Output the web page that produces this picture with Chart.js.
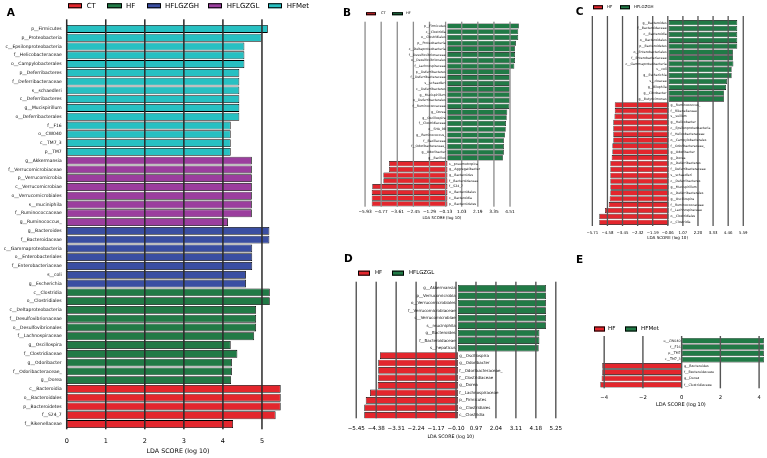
<!DOCTYPE html>
<html><head><meta charset="utf-8">
<script src="https://cdn.jsdelivr.net/npm/chart.js@4.4.0/dist/chart.umd.min.js"></script>
<style>
html,body{margin:0;padding:0;background:#fff;}
#wrap{position:relative;width:767px;height:458px;overflow:hidden;font-family:"DejaVu Sans",sans-serif;background:#fff;}
canvas{position:absolute;}
.t{position:absolute;white-space:nowrap;line-height:1;transform:translateY(-50%);color:#000;}
.box{position:absolute;border:1px solid #000;box-sizing:border-box;transform:translateY(-50%);}
</style></head><body><div id="wrap"></div>
<script>
// ---------------- DATA ----------------
const A_labels = ['p__Firmicutes','p__Proteobacteria','c__Epsilonproteobacteria','f__Helicobacteraceae','o__Campylobacterales','p__Deferribacteres','f__Deferribacteraceae','s__schaedleri','c__Deferribacteres','g__Mucispirillum','o__Deferribacterales','f__F16','o__CW040','c__TM7_3','p__TM7',
 'g__Akkermansia','f__Verrucomicrobiaceae','p__Verrucomicrobia','c__Verrucomicrobiae','o__Verrucomicrobiales','s__muciniphila','f__Ruminococcaceae','g__Ruminococcus_',
 'g__Bacteroides','f__Bacteroidaceae','c__Gammaproteobacteria','o__Enterobacteriales','f__Enterobacteriaceae','s__coli','g__Escherichia',
 'c__Clostridia','o__Clostridiales','c__Deltaproteobacteria','f__Desulfovibrionaceae','o__Desulfovibrionales','f__Lachnospiraceae','g__Oscillospira','f__Clostridiaceae','g__Odoribacter','f__Odoribacteraceae_','g__Dorea',
 'c__Bacteroidia','o__Bacteroidales','p__Bacteroidetes','f__S24_7','f__Rikenellaceae'];
const A_scores = [5.15,4.99,4.55,4.55,4.55,4.42,4.42,4.42,4.42,4.42,4.42,4.2,4.2,4.2,4.2,
 4.74,4.74,4.74,4.74,4.74,4.74,4.74,4.13,
 5.19,5.19,4.75,4.75,4.75,4.59,4.59,
 5.2,5.2,4.85,4.85,4.85,4.8,4.2,4.37,4.23,4.23,4.21,
 5.48,5.48,5.48,5.35,4.26];
const A_class = ['HFMet','HFMet','HFMet','HFMet','HFMet','HFMet','HFMet','HFMet','HFMet','HFMet','HFMet','HFMet','HFMet','HFMet','HFMet',
 'HFLGZGL','HFLGZGL','HFLGZGL','HFLGZGL','HFLGZGL','HFLGZGL','HFLGZGL','HFLGZGL',
 'HFLGZGH','HFLGZGH','HFLGZGH','HFLGZGH','HFLGZGH','HFLGZGH','HFLGZGH',
 'HF','HF','HF','HF','HF','HF','HF','HF','HF','HF','HF',
 'CT','CT','CT','CT','CT'];
const A_legend = ['CT','HF','HFLGZGH','HFLGZGL','HFMet'];
const A_ticks = ['0','1','2','3','4','5'];

const B_labels = ['p__Firmicutes','c__Clostridia','o__Clostridiales','p__Proteobacteria','c__Deltaproteobacteria','f__Desulfovibrionaceae','o__Desulfovibrionales','f__Lachnospiraceae','p__Deferribacteres','f__Deferribacteraceae','s__schaedleri','c__Deferribacteres','g__Mucispirillum','o__Deferribacterales','f__Ruminococcaceae','g__Dorea','g__Oscillospira','f__Clostridiaceae','o__SHA_98','g__Ruminococcus_','f__Bacillaceae','f__Odoribacteraceae_','g__Odoribacter','g__Bacillus',
 's__pneumotropica','g__Aggregatibacter','g__Bacteroides','f__Bacteroidaceae','f__S24_7','o__Bacteroidales','c__Bacteroidia','p__Bacteroidetes'];
const B_scores = [5.15,5.1,5.1,4.94,4.87,4.87,4.87,4.82,4.48,4.48,4.48,4.48,4.48,4.48,4.46,4.31,4.27,4.22,4.2,4.15,4.07,4.07,4.07,4.0,
 -4.2,-4.2,-4.61,-4.61,-5.41,-5.45,-5.45,-5.45];
const B_legend = ['CT','HF'];
const B_ticks = ['\u22125.93','\u22124.77','\u22123.61','\u22122.45','\u22121.29','\u22120.13','1.03','2.19','3.35','4.51'];

const C_labels = ['g__Bacteroides','f__Bacteroidaceae','c__Bacteroidia','o__Bacteroidales','p__Bacteroidetes','o__Enterobacteriales','f__Enterobacteriaceae','c__Gammaproteobacteria','s__coli','g__Escherichia','s__cloacae','g__Bilophila','g__Citrobacter','g__Butyricimonas',
 'g__Ruminococcus_','f__Rikenellaceae','s__suillum','g__Helicobacter','c__Epsilonproteobacteria','f__Helicobacteraceae','o__Campylobacterales','f__Odoribacteraceae_','g__Odoribacter','g__Dorea','p__Deferribacteres','f__Deferribacteraceae','s__schaedleri','c__Deferribacteres','g__Mucispirillum','o__Deferribacterales','g__Oscillospira','f__Ruminococcaceae','f__Lachnospiraceae','o__Clostridiales','c__Clostridia'];
const C_scores = [5.14,5.14,5.14,5.14,5.14,4.82,4.82,4.85,4.72,4.72,4.37,4.3,4.15,4.15,
 -4.03,-4.03,-4.05,-4.14,-4.14,-4.14,-4.14,-4.21,-4.21,-4.26,-4.36,-4.36,-4.36,-4.36,-4.36,-4.36,-4.41,-4.48,-4.76,-5.19,-5.19];
const C_legend = ['HF','HFLGZGH'];
const C_ticks = ['\u22125.71','\u22124.58','\u22123.45','\u22122.32','\u22121.19','\u22120.06','1.07','2.20','3.33','4.46','5.59'];

const D_labels = ['g__Akkermansia','p__Verrucomicrobia','o__Verrucomicrobiales','f__Verrucomicrobiaceae','c__Verrucomicrobiae','s__muciniphila','g__Bacteroides','f__Bacteroidaceae','s__hepaticus',
 'g__Oscillospira','g__Odoribacter','f__Odoribacteraceae_','f__Clostridiaceae','g__Dorea','f__Lachnospiraceae','p__Firmicutes','o__Clostridiales','c__Clostridia'];
const D_scores = [4.72,4.72,4.72,4.72,4.72,4.72,4.37,4.37,4.33,
 -4.18,-4.27,-4.27,-4.27,-4.3,-4.71,-4.94,-5.02,-5.02];
const D_legend = ['HF','HFLGZGL'];
const D_ticks = ['\u22125.45','\u22124.38','\u22123.31','\u22122.24','\u22121.17','\u22120.10','0.97','2.04','3.11','4.18','5.25'];

const E_labels = ['o__CW040','f__F16','p__TM7','c__TM7_3','g__Bacteroides','f__Bacteroidaceae','g__Dorea','f__Clostridiaceae'];
const E_scores = [4.25,4.25,4.25,4.26,-4.1,-4.1,-4.13,-4.2];
const E_legend = ['HF','HFMet'];
const E_ticks = ['\u22124','\u22122','0','2','4'];

// ---------------- STYLE ----------------
const COLORS = {CT:'#E3262D', HF:'#217A46', HFLGZGH:'#3A4EA2', HFLGZGL:'#9B3E9E', HFMet:'#27C0C2'};
const RED = '#E3262D', GREEN = '#217A46';
const FONT = '"DejaVu Sans", sans-serif';
const wrap = document.getElementById('wrap');
const num = s => parseFloat(s.replace('\u2212','-'));

function txt(x, yc, s, size, bold){
  const d=document.createElement('div'); d.className='t'; d.textContent=s;
  d.style.left=x+'px'; d.style.top=yc+'px'; d.style.fontSize=size+'px';
  if(bold) d.style.fontWeight='bold';
  wrap.appendChild(d);
}
function box(x1,x2,yc,h,color,bw){
  const d=document.createElement('div'); d.className='box';
  d.style.left=x1+'px'; d.style.top=yc+'px'; d.style.width=(x2-x1)+'px'; d.style.height=h+'px';
  d.style.background=color; d.style.borderWidth=(bw||1)+'px';
  wrap.appendChild(d);
}

function panel(p){
  const c=document.createElement('canvas');
  c.width=p.cw; c.height=p.ch; c.style.left=p.cx+'px'; c.style.top=p.cy+'px';
  c.style.width=p.cw+'px'; c.style.height=p.ch+'px';
  wrap.appendChild(c);
  const groups=[];
  p.colors.forEach(col=>{ if(!groups.includes(col)) groups.push(col); });
  const datasets=groups.map(col=>({
    data: p.scores.map((v,i)=>({x:v,y:i})).filter((d,i)=>p.colors[i]===col),
    backgroundColor: col, borderColor:'#000', borderWidth:p.bw, borderSkipped:false,
    grouped:false, barPercentage:0.9, categoryPercentage:1.0
  }));
  const tickVals=p.ticks.map(num);
  const overlay={
    id:'overlay',
    afterDraw(chart){
      const {ctx, chartArea:a, scales:{x,y}}=chart;
      ctx.save();
      // vertical grid lines at the tick values, drawn over the bars
      ctx.fillStyle=p.grid;
      tickVals.forEach(v=>{
        const px=x.getPixelForValue(v);
        ctx.fillRect(px-p.gw/2, a.top, p.gw, a.bottom-a.top);
      });
      // feature names at the zero line
      const x0=x.getPixelForValue(0);
      ctx.font=p.labelFont+'px '+FONT; ctx.fillStyle='#111'; ctx.textBaseline='middle';
      p.labels.forEach((lab,i)=>{
        const py=y.getPixelForValue(i);
        if(p.scores[i]>=0){ ctx.textAlign='right'; ctx.fillText(lab,x0-p.gapL,py); }
        else { ctx.textAlign='left'; ctx.fillText(lab,x0+p.gapR,py); }
      });
      ctx.restore();
    }
  };
  new Chart(c,{
    type:'bar',
    data:{datasets},
    options:{
      indexAxis:'y', responsive:false, maintainAspectRatio:false, animation:false,
      layout:{padding:{left:p.al-p.cx, top:p.at-p.cy, right:p.cx+p.cw-p.ar, bottom:0}},
      plugins:{legend:{display:false}, tooltip:{enabled:false}},
      scales:{
        x:{type:'linear', min:p.xmin, max:p.xmax,
          border:{display:false},
          grid:{display:false, drawTicks:false},
          afterBuildTicks:s=>{ s.ticks=tickVals.map(v=>({value:v})); },
          afterFit:s=>{ s.height=p.cy+p.ch-p.ab; },
          ticks:{font:{family:FONT,size:p.tickSize}, color:'#000', padding:p.tickPad, maxRotation:0, minRotation:0, autoSkip:false,
            callback:(v,i)=>p.ticks[i]},
          title:{display:true, text:'LDA SCORE (log 10)', color:'#000', font:{family:FONT,size:p.titleSize}, padding:{top:0,bottom:p.titlePad}}
        },
        y:{type:'linear', min:p.ymin, max:p.ymax, reverse:true, display:false, offset:false, grace:0,
          afterDataLimits:s=>{ s.min=p.ymin; s.max=p.ymax; }}
      }
    },
    plugins:[overlay]
  });
}

panel({cx:0,cy:0,cw:330,ch:458, al:66.7,at:19.3,ar:289.3,ab:429.3, xmin:0,xmax:5.7, ymin:-1.1,ymax:45.6,
  labels:A_labels, scores:A_scores, colors:A_class.map(k=>COLORS[k]), ticks:A_ticks,
  tickSize:6.5,tickPad:7.8,titleSize:6.3,titlePad:3.2,labelFont:4.5,gapL:5,gapR:2,grid:'#2a2a2a',gw:1.5,bw:0.8});
panel({cx:330,cy:0,cw:198,ch:225, al:362.7,at:21.7,ar:521,ab:206.7, xmin:-6.1,xmax:5.3, ymin:-0.75,ymax:31.5,
  labels:B_labels, scores:B_scores, colors:B_scores.map(v=>v<0?RED:GREEN), ticks:B_ticks,
  tickSize:4.3,tickPad:3.0,titleSize:3.9,titlePad:4.96,labelFont:3.2,gapL:1.7,gapR:1.6,grid:'#8c8c8c',gw:1.3,bw:0.6});
panel({cx:528,cy:0,cw:239,ch:248, al:589.8,at:16,ar:745.4,ab:226, xmin:-5.9,xmax:5.75, ymin:-1.14,ymax:34.63,
  labels:C_labels, scores:C_scores, colors:C_scores.map(v=>v<0?RED:GREEN), ticks:C_ticks,
  tickSize:3.9,tickPad:4.36,titleSize:4.1,titlePad:7.54,labelFont:3.2,gapL:2,gapR:2,grid:'#555',gw:1.3,bw:0.6});
panel({cx:330,cy:250,cw:250,ch:200, al:343,at:281.7,ar:558.6,ab:418.3, xmin:-6.16,xmax:5.4, ymin:-0.88,ymax:17.4,
  labels:D_labels, scores:D_scores, colors:D_scores.map(v=>v<0?RED:GREEN), ticks:D_ticks,
  tickSize:5.6,tickPad:7.04,titleSize:4.7,titlePad:9.9,labelFont:4,gapL:2.2,gapR:1.4,grid:'#555',gw:1.4,bw:0.7});
panel({cx:585,cy:320,cw:182,ch:95, al:597.4,at:336,ar:766.4,ab:388.3, xmin:-4.35,xmax:4.27, ymin:-0.75,ymax:7.57,
  labels:E_labels, scores:E_scores, colors:E_scores.map(v=>v<0?RED:GREEN), ticks:E_ticks,
  tickSize:5.3,tickPad:6.2,titleSize:5,titlePad:7,labelFont:3.3,gapL:1,gapR:2.3,grid:'#555',gw:1.4,bw:0.6});

// Legends and panel letters
const Aleg=[[68.3,82.3,86.7],[107.3,121.7,126],[146.7,161,165],[208.3,222.3,226.7],[268.3,281.7,286.7]];
A_legend.forEach((k,i)=>{ box(Aleg[i][0],Aleg[i][1],5.5,5.5,COLORS[k]); txt(Aleg[i][2],5.5,k,7); });
const Bleg=[[366,376,381],[391.7,402.7,406]];
B_legend.forEach((k,i)=>{ box(Bleg[i][0],Bleg[i][1],13.7,3.5,i?GREEN:RED); txt(Bleg[i][2],13.7,k,3.6); });
const Cleg=[[593.3,602.7,607],[620,630,634]];
C_legend.forEach((k,i)=>{ box(Cleg[i][0],Cleg[i][1],7.3,3.5,i?GREEN:RED); txt(Cleg[i][2],7.3,k,4); });
const Dleg=[[358,370,375],[392.3,404,409]];
D_legend.forEach((k,i)=>{ box(Dleg[i][0],Dleg[i][1],273.3,4.7,i?GREEN:RED); txt(Dleg[i][2],273.3,k,5.4); });
const Eleg=[[594,605,608],[625.3,636.7,641]];
E_legend.forEach((k,i)=>{ box(Eleg[i][0],Eleg[i][1],329,5,i?GREEN:RED); txt(Eleg[i][2],329,k,5.6); });
txt(6.7,11.7,'A',10.5,true); txt(343,11.7,'B',10.5,true); txt(575.7,11,'C',10.5,true);
txt(344,258,'D',10.5,true); txt(576,259,'E',10.5,true);
</script></body></html>
